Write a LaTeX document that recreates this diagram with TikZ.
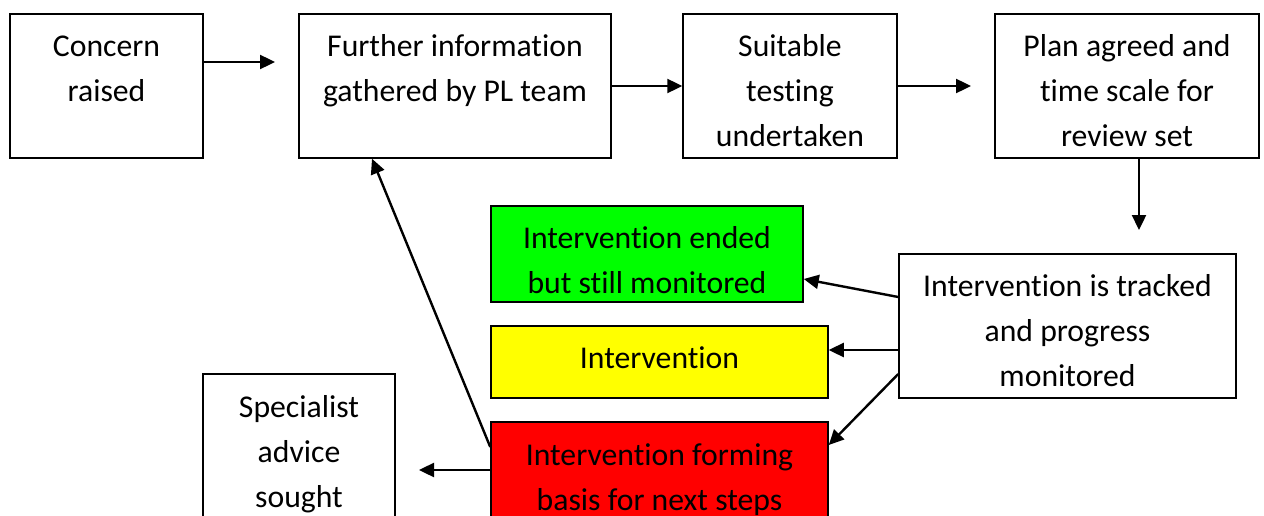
\documentclass[tikz,border=0pt]{standalone}
\usepackage{fontspec}
\setmainfont[Ligatures=NoCommon]{Carlito}
\usetikzlibrary{arrows.meta}
\definecolor{bgreen}{RGB}{0,255,0}
\definecolor{byellow}{RGB}{255,255,0}
\definecolor{bred}{RGB}{255,0,0}
\tikzset{
  boxn/.style={draw=black, line width=1.5pt, inner sep=0pt, fill=white},
  txt/.style={font=\fontsize{31.7}{45}\selectfont, align=center, inner sep=0pt, anchor=north},
  arr/.style={line width=2.4pt, -{Triangle[length=15pt,width=14pt]}, shorten >=0pt}
}
\begin{document}
\begin{tikzpicture}[x=1pt,y=1pt]
\useasboundingbox (0,0) rectangle (1264,-516);
\clip (0,0) rectangle (1264,-516);
\fill[white] (0,0) rectangle (1264,-516);
% boxes
\node[boxn, minimum width=193pt, minimum height=144pt] (conc) at (106.5,-86) {};
\node[boxn, minimum width=312pt, minimum height=144pt] (further) at (455,-86) {};
\node[boxn, minimum width=214pt, minimum height=144pt] (suit) at (790,-86) {};
\node[boxn, minimum width=264pt, minimum height=144pt] (plan) at (1127,-86) {};
\node[boxn, fill=bgreen, minimum width=312pt, minimum height=96pt] (green) at (647,-254) {};
\node[boxn, fill=byellow, minimum width=337pt, minimum height=72pt] (yellow) at (659.5,-362) {};
\node[boxn, minimum width=337pt, minimum height=144pt] (track) at (1067.5,-326) {};
\node[boxn, minimum width=192pt, minimum height=144pt] (spec) at (299,-446) {};
\node[boxn, fill=bred, minimum width=337pt, minimum height=96pt] (red) at (659.5,-470) {};
% texts
\node[txt] (concT) at ([yshift=-12pt]conc.north) {\strut Concern\\raised};
\node[txt] (furtherT) at ([yshift=-12pt]further.north) {\strut Further information\\gathered by PL team};
\node[txt] (suitT) at ([yshift=-12pt]suit.north) {\strut Suitable\\testing\\undertaken};
\node[txt] (planT) at ([yshift=-12pt]plan.north) {\strut Plan agreed and\\time scale for\\review set};
\node[txt] (greenT) at ([yshift=-12pt]green.north) {\strut Intervention ended\\but still monitored};
\node[txt] (yellowT) at ([yshift=-12pt]yellow.north) {\strut Intervention};
\node[txt] (trackT) at ([yshift=-12pt]track.north) {\strut Intervention is tracked\\and progress\\monitored};
\node[txt] (specT) at ([yshift=-12.5pt]spec.north) {\strut Specialist\\advice\\sought};
\node[txt] (redT) at ([yshift=-12.5pt]red.north) {\strut Intervention forming\\basis for next steps};
% free ends
\coordinate (e1) at (275,-62);
\coordinate (e3) at (971,-86);
\coordinate (e4) at (1139,-230);
\coordinate (e8) at (419,-470);
% connectors
\draw[arr] ([yshift=24pt]conc.east) -- (e1);
\draw[arr] (further.east) -- (suit.west);
\draw[arr] (suit.east) -- (e3);
\draw[arr] ([xshift=12pt]plan.south) -- (e4);
\draw[arr] ([yshift=29pt]track.west) -- ([yshift=-25pt]green.east);
\draw[arr] ([yshift=-24pt]track.west) -- ([yshift=12pt]yellow.east);
\draw[arr] ([yshift=-48pt]track.west) -- ([yshift=25pt]red.east);
\draw[arr] (red.west) -- (e8);
\draw[arr] ([yshift=23pt]red.west) -- ([xshift=-83pt]further.south);
\end{tikzpicture}
\end{document}
